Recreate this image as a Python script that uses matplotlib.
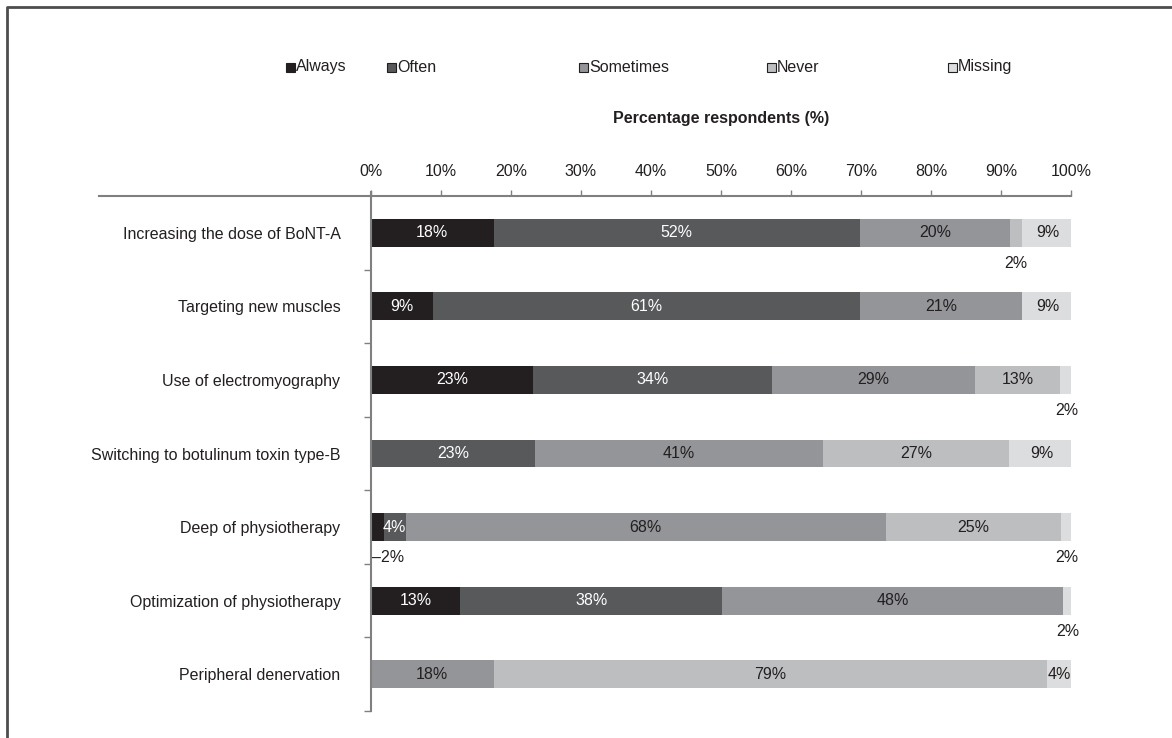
import matplotlib
matplotlib.use("Agg")
import matplotlib.pyplot as plt
from matplotlib.lines import Line2D
from matplotlib.patches import Rectangle

plt.rcParams['font.family'] = ['Liberation Sans', 'DejaVu Sans']

# data (bar lengths in %, printed labels as text)
categories = ["Increasing the dose of BoNT-A", "Targeting new muscles",
              "Use of electromyography", "Switching to botulinum toxin type-B",
              "Deep of physiotherapy", "Optimization of physiotherapy",
              "Peripheral denervation"]
series = ["Always", "Often", "Sometimes", "Never", "Missing"]

always    = [17.5,  8.9, 23.2,  0.0,  1.8, 12.7,  0.0]
often     = [52.3, 60.9, 34.1, 23.4,  3.2, 37.5,  0.0]
sometimes = [21.5, 23.2, 29.0, 41.2, 68.5, 48.7, 17.5]
never     = [ 1.7,  0.0, 12.1, 26.6, 25.0,  0.0, 79.0]
missing   = [ 7.3,  7.3,  2.0,  9.2,  1.8,  1.4,  3.7]

always_lbl    = ["18%", "9%", "23%", "", "\u20132%", "13%", ""]
often_lbl     = ["52%", "61%", "34%", "23%", "4%", "38%", ""]
sometimes_lbl = ["20%", "21%", "29%", "41%", "68%", "48%", "18%"]
never_lbl     = ["2%", "", "13%", "27%", "25%", "", "79%"]
missing_lbl   = ["9%", "9%", "2%", "9%", "2%", "2%", "4%"]

# labels that sit under the bar instead of inside it: (row, series index)
outside = [(0, 3), (2, 4), (4, 0), (4, 4), (5, 4)]

colors = ["#231f20", "#58595b", "#939598", "#bcbec0", "#dcddde"]
text_colors = ["white", "white", "#231f20", "#231f20", "#231f20"]

W, H = 1172, 738
fig = plt.figure(figsize=(W / 100, H / 100), dpi=100)
ax = fig.add_axes([371 / W, 1 - 711 / H, 700 / W, (711 - 196) / H])

values = [always, often, sometimes, never, missing]
labels = [always_lbl, often_lbl, sometimes_lbl, never_lbl, missing_lbl]
fs = 11.5

ypos = list(range(len(categories)))
left = [0.0] * len(categories)
for s, (vals, lbls) in enumerate(zip(values, labels)):
    ax.barh(ypos, vals, left=left, height=0.38, color=colors[s],
            edgecolor='none', zorder=2)
    for i, (v, t) in enumerate(zip(vals, lbls)):
        if t:
            cx = left[i] + v / 2
            if (i, s) in outside:
                if s == 0:
                    ax.text(0.1, i + 0.42, t, ha='left', va='center',
                            fontsize=fs, color='#231f20')
                else:
                    ax.text(cx, i + 0.42, t, ha='center', va='center',
                            fontsize=fs, color='#231f20')
            else:
                ax.text(cx, i, t, ha='center', va='center', fontsize=fs,
                        color=text_colors[s])
    left = [l + v for l, v in zip(left, vals)]

ax.set_xlim(0, 100)
ax.set_ylim(len(categories) - 0.5, -0.5)
ax.xaxis.tick_top()
ax.set_xticks(range(0, 101, 10))
ax.set_xticklabels([f"{v}%" for v in range(0, 101, 10)], fontsize=fs)
ax.tick_params(axis='x', length=4, width=1, color='#808080', pad=8,
               labelcolor='#231f20')
ax.set_yticks(ypos)
ax.set_yticklabels(categories, fontsize=fs, color='#231f20')
ax.tick_params(axis='y', which='major', length=0, pad=22)
ax.set_yticks([i + 0.5 for i in ypos], minor=True)
ax.tick_params(axis='y', which='minor', length=5, width=1, color='#808080')

for side in ['right', 'bottom']:
    ax.spines[side].set_visible(False)
for side in ['top', 'left']:
    ax.spines[side].set_color('#808080')
    ax.spines[side].set_linewidth(1.5)

# top axis line continues to the left over the category labels
fig.add_artist(Line2D([99 / W, 371 / W], [1 - 196 / H, 1 - 196 / H],
                      color='#808080', lw=1.5))
fig.add_artist(Line2D([371 / W, 371 / W], [1 - 192 / H, 1 - 196 / H],
                      color='#808080', lw=1.5))

fig.text(721 / W, 1 - 118 / H, "Percentage respondents (%)", ha='center',
         va='center', fontsize=fs, fontweight='bold', color='#231f20')

# legend, drawn by hand to keep Excel's uneven spacing
leg_x = [286, 387, 579, 767, 948]
for s, name in enumerate(series):
    x0 = leg_x[s]
    fig.add_artist(Rectangle((x0 / W, 1 - 72 / H), 9 / W, 9 / H,
                             transform=fig.transFigure, facecolor=colors[s],
                             edgecolor='#231f20', lw=0.8))
    fig.text((x0 + 10) / W, 1 - 67 / H, name, ha='left', va='center',
             fontsize=fs, color='#231f20')

# frame round the figure (top and left edges visible)
fig.add_artist(Line2D([7 / W, 7 / W, 1.0], [0.0, 1 - 7 / H, 1 - 7 / H],
                      color='#4d4d4d', lw=2))

fig.savefig("out.png", dpi=100)
